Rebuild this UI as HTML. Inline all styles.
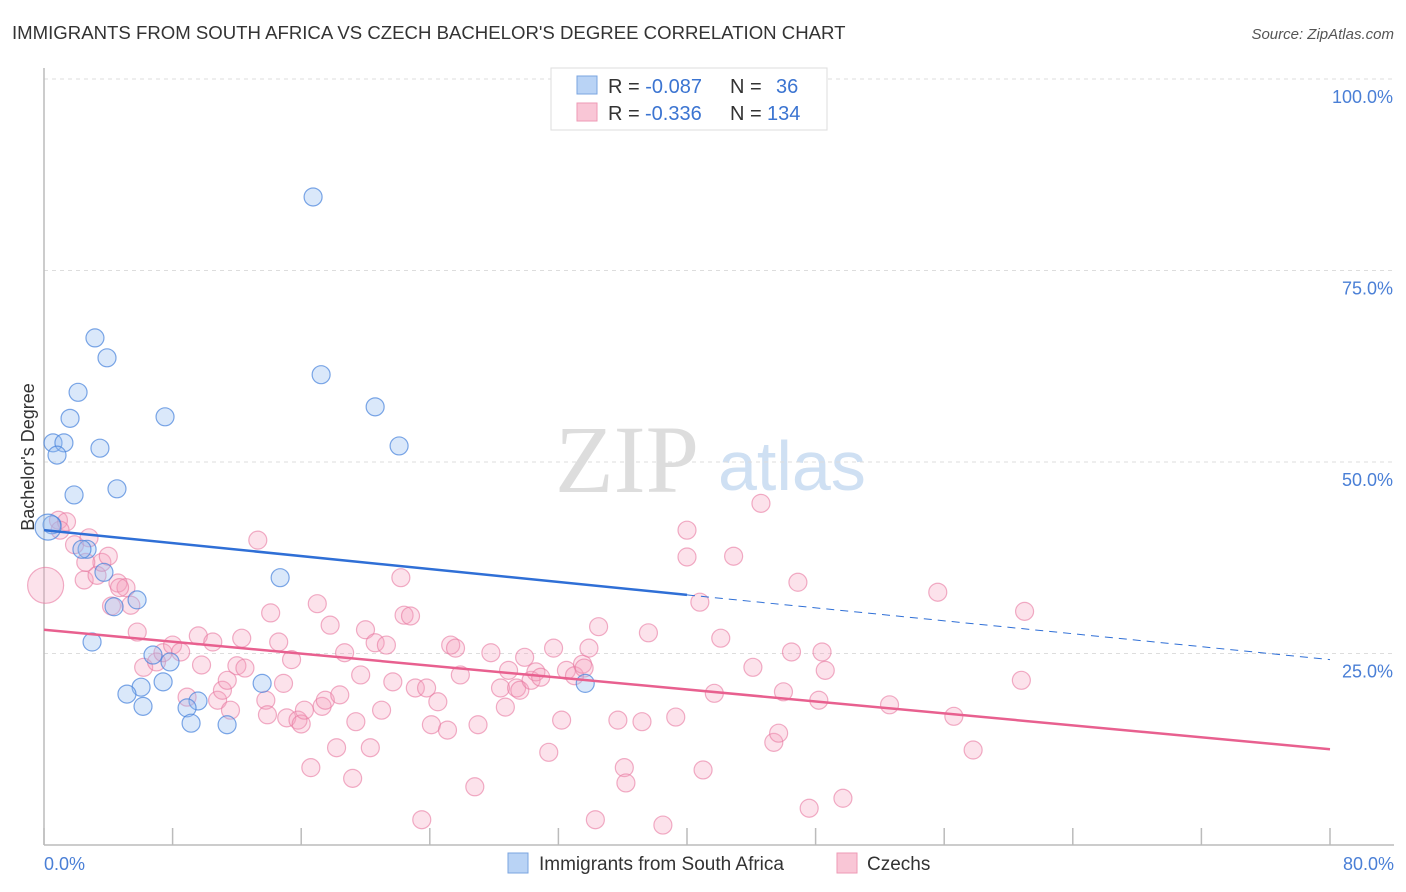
<!DOCTYPE html>
<html><head><meta charset="utf-8">
<style>
body{margin:0;background:#fff;font-family:"Liberation Sans",sans-serif;}
svg{display:block}
</style></head>
<body>
<svg id="chart" width="1406" height="892" viewBox="0 0 1406 892" xmlns="http://www.w3.org/2000/svg">
<text x="12" y="39" font-size="18.6" fill="#333">IMMIGRANTS FROM SOUTH AFRICA VS CZECH BACHELOR'S DEGREE CORRELATION CHART</text>
<text x="1394" y="39" font-size="15" fill="#555" font-style="italic" text-anchor="end">Source: ZipAtlas.com</text>
<g>
<text x="555" y="492" font-size="96" fill="#ddd" font-family="Liberation Serif,serif">ZIP</text>
<text x="718" y="490" font-size="70" fill="#cfe0f3">atlas</text>
</g>
<g id="grid"></g>
<g id="axes"></g>
<g id="points"></g>
<g id="trends"></g>
<text transform="translate(34,457) rotate(-90)" font-size="18" fill="#333" text-anchor="middle">Bachelor's Degree</text>
<text x="44" y="870" font-size="18" fill="#4a7fd6">0.0%</text>
<text x="1394" y="870" font-size="18" fill="#4a7fd6" text-anchor="end">80.0%</text>
<g>
<rect x="551" y="68" width="276" height="62" fill="#fff" stroke="#ddd"/>
<rect x="577" y="76" width="20" height="18" fill="#b9d3f5" stroke="#7aa5e0"/>
<rect x="577" y="103" width="20" height="18" fill="#f9c6d6" stroke="#ee9ab5"/>
<text x="608" y="93" font-size="20" fill="#333">R = <tspan fill="#3b74d1">-0.087</tspan><tspan x="730">N = </tspan><tspan x="776" fill="#3b74d1">36</tspan></text>
<text x="608" y="120" font-size="20" fill="#333">R = <tspan x="645" fill="#3b74d1">-0.336</tspan><tspan x="730">N = </tspan><tspan x="767" fill="#3b74d1">134</tspan></text>
</g>
<g>
<rect x="508" y="853" width="20" height="20" fill="#b9d3f5" stroke="#7aa5e0"/>
<text x="539" y="870" font-size="19" fill="#333">Immigrants from South Africa</text>
<rect x="837" y="853" width="20" height="20" fill="#f9c6d6" stroke="#ee9ab5"/>
<text x="867" y="870" font-size="19" fill="#333">Czechs</text>
</g>
</svg>
<script>
const yTicks=[25,50,75,100];
const yTickLabels=["25.0%","50.0%","75.0%","100.0%"];
const xTicks=[0,8,16,24,32,40,48,56,64,72,80];
const blueX=[16.74,3.17,3.92,17.24,2.12,1.62,7.53,20.6,0.56,1.24,0.81,3.48,22.09,1.87,4.54,0.5,2.68,2.36,3.73,14.69,5.79,4.36,2.99,6.78,7.84,7.41,6.04,5.16,6.16,9.58,8.9,9.15,11.39,13.57,33.67,0.25];
const blueY=[84.6,66.2,63.6,61.4,59.1,55.7,55.9,57.2,52.5,52.5,50.9,51.8,52.1,45.7,46.5,41.8,38.6,38.6,35.6,34.9,32.0,31.1,26.5,24.8,23.9,21.3,20.6,19.7,18.1,18.8,17.9,15.9,15.7,21.1,21.1,41.5];
const pinkX=[0.1,0.9,1.4,1.0,1.9,2.8,2.5,3.3,3.6,4.6,5.1,4.2,5.4,5.8,6.2,7.0,7.4,8.0,8.5,8.9,9.6,9.8,10.5,10.8,11.1,11.4,11.6,12.0,12.3,12.5,13.3,13.8,13.9,14.1,14.6,14.9,15.4,15.1,15.8,16.0,16.2,16.6,17.0,17.3,17.5,17.8,18.2,18.4,18.7,19.2,19.4,19.7,20.0,20.3,20.6,21.0,21.3,21.7,22.2,22.4,22.8,23.1,23.5,23.8,24.1,24.5,25.1,25.3,25.6,25.9,26.8,27.0,27.8,28.4,28.7,28.9,29.4,29.6,29.9,30.3,30.6,30.9,31.4,31.7,32.2,32.5,33.0,33.5,33.6,33.9,34.3,34.5,35.7,36.1,36.2,37.2,37.6,38.5,39.3,40.0,40.0,40.8,41.0,41.7,42.1,42.9,44.1,44.6,45.4,45.7,46.0,46.5,46.9,47.6,48.2,48.4,48.6,49.7,52.6,55.6,56.6,57.8,60.8,61.0,4.0,2.6,4.7];
const pinkY=[33.9,42.4,42.2,41.1,39.2,40.1,34.6,35.2,36.9,34.2,33.6,31.2,31.3,27.8,23.2,23.9,25.1,26.1,25.2,19.3,27.3,23.5,26.5,18.9,20.2,21.5,17.6,23.4,27.0,23.1,39.8,18.9,17.0,30.3,26.5,21.1,24.2,16.6,16.3,15.8,17.6,10.1,31.5,18.1,18.9,28.7,12.7,19.6,25.1,8.7,16.1,22.2,28.1,12.7,26.4,17.6,26.1,21.3,34.9,30.0,29.9,20.5,3.3,20.5,15.7,18.7,15.0,26.1,25.7,22.2,7.6,15.7,25.1,20.5,18.0,22.8,20.5,20.2,24.5,21.5,22.6,21.9,12.1,25.7,16.3,22.8,22.1,23.6,23.1,25.7,3.3,28.5,16.3,10.1,8.1,16.1,27.7,2.6,16.7,41.1,37.6,31.7,9.8,19.8,27.0,37.7,23.2,44.6,13.4,14.6,20.0,25.2,34.3,4.8,18.9,25.2,22.8,6.1,18.3,33.0,16.8,12.4,21.5,30.5,37.7,36.9,33.6];
const blueTrend=[41.1,24.2]; // value at x=0 and x=80
const blueSolidEnd=40;
const pinkTrend=[28.1,12.5];

const X0=44,X1=1330,Y0=845,YT=79;
const sx=v=>X0+(v/80)*(X1-X0);
const sy=v=>Y0-(v/100)*(Y0-YT);
const NS="http://www.w3.org/2000/svg";
function mk(tag,attrs,parent){const e=document.createElementNS(NS,tag);for(const k in attrs)e.setAttribute(k,attrs[k]);parent.appendChild(e);return e;}
const grid=document.getElementById('grid'),axes=document.getElementById('axes'),pts=document.getElementById('points'),tr=document.getElementById('trends');
yTicks.forEach((t,i)=>{
  const l=mk('line',{x1:X0,x2:1394,y1:sy(t),y2:sy(t),stroke:'#ddd','stroke-dasharray':'4,4'},grid);
  
  
  const tx=mk('text',{x:1393,y:sy(t)+24,'font-size':18,fill:'#4a7fd6','text-anchor':'end'},grid);
  tx.textContent=yTickLabels[i];
  
  
});
const ax=mk('line',{x1:X0,x2:X0,y1:68,y2:Y0,stroke:'#bbb','stroke-width':1.5},axes);


const bx=mk('line',{x1:X0,x2:1394,y1:Y0,y2:Y0,stroke:'#bbb','stroke-width':1.5},axes);


xTicks.forEach(t=>{
  const l=mk('line',{x1:sx(t),x2:sx(t),y1:828,y2:Y0,stroke:'#bbb','stroke-width':1.5},axes);
  
  
});
pinkX.forEach((x,i)=>{
  const r=i===0?18:9;
  const c=mk('circle',{cx:sx(x),cy:sy(pinkY[i]),r:r,fill:'rgba(244,160,190,0.3)',stroke:'rgba(232,120,160,0.6)','stroke-width':1.2},pts);
  
  
});
blueX.forEach((x,i)=>{
  const r=i===blueX.length-1?13:9;
  const c=mk('circle',{cx:sx(x),cy:sy(blueY[i]),r:r,fill:'rgba(150,190,240,0.35)',stroke:'rgba(70,130,220,0.7)','stroke-width':1.2},pts);
  
  
});
const bAt=x=>blueTrend[0]+(blueTrend[1]-blueTrend[0])*x/80;
const b1=mk('line',{x1:sx(0),y1:sy(bAt(0)),x2:sx(blueSolidEnd),y2:sy(bAt(blueSolidEnd)),stroke:'#2f6fd6','stroke-width':2.5},tr);


const b2=mk('line',{x1:sx(blueSolidEnd),y1:sy(bAt(blueSolidEnd)),x2:sx(80),y2:sy(bAt(80)),stroke:'#2f6fd6','stroke-width':1,'stroke-dasharray':'8,6'},tr);


const p1=mk('line',{x1:sx(0),y1:sy(pinkTrend[0]),x2:sx(80),y2:sy(pinkTrend[1]),stroke:'#e8608f','stroke-width':2.5},tr);


</script>
</body></html>
